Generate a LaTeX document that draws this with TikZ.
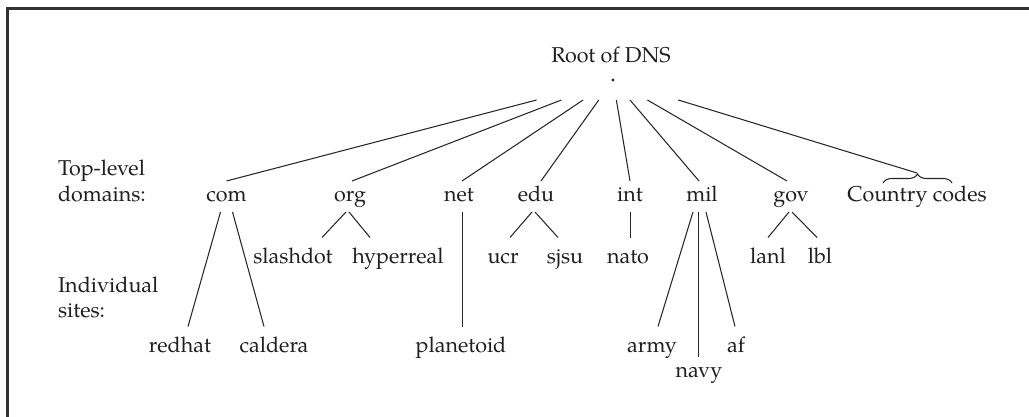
\documentclass[tikz,border=0pt]{standalone}
\usepackage{fontspec}
\setmainfont{TeX Gyre Pagella}
\usetikzlibrary{decorations.pathreplacing}
\begin{document}
\begin{tikzpicture}[x=1pt,y=-1pt,
  txt/.style={font=\fontsize{21.5}{25}\selectfont, inner sep=0pt, outer sep=0pt, anchor=base, text=black!88},
  tld/.style={txt, text height=20pt, text depth=11pt},
  site/.style={txt, text height=25.5pt, text depth=6pt},
  lowsite/.style={txt, text height=20pt, text depth=6pt},
  edge/.style={line width=1.05pt, draw=black!85},
  frame/.style={line width=3pt, draw=black!80, line join=miter},
]
\useasboundingbox (0,0) rectangle (1029,417);
\draw[frame] (7,417) -- (7,8.5) -- (1029,8.5);

% root
\node[txt] (rootlbl) at (611,63) {Root of DNS};
\node[minimum width=200pt, minimum height=40pt, inner sep=0pt, outer sep=0pt] (dot) at (613,80) {};
\fill[black!85] (dot.center) circle (1.7pt);

% side labels
\node[txt, anchor=base west] (tl1) at (58,176) {Top-level};
\node[txt, anchor=base west] (tl2) at (58,201) {domains:};
\node[txt, anchor=base west] (is1) at (58,292) {Individual};
\node[txt, anchor=base west] (is2) at (58,317) {sites:};

% top-level domains
\node[tld] (com) at (226.5,201) {com};
\node[tld] (org) at (350,201) {org};
\node[tld] (net) at (459,201) {net};
\node[tld] (edu) at (536,201) {edu};
\node[tld] (int) at (630,201) {int};
\node[tld] (mil) at (702,201) {mil};
\node[tld] (gov) at (791,201) {gov};
\node[tld] (cc) at (917,201) {Country codes};
\draw[edge, decorate, decoration={brace, amplitude=9pt}]
  ([xshift=-34pt,yshift=-2pt]cc.north) -- ([xshift=35pt,yshift=-2pt]cc.north);
\coordinate (cctip) at ([yshift=8pt]cc.north);

% second row sites
\node[site] (slashdot) at (293,263) {slashdot};
\node[site] (hyperreal) at (398,263) {hyperreal};
\node[site] (ucr) at (503,263) {ucr};
\node[site] (sjsu) at (565,263) {sjsu};
\node[site] (nato) at (628,263) {nato};
\node[site] (lanl) at (768,263) {lanl};
\node[site] (lbl) at (820,263) {lbl};

% third row sites
\node[site] (redhat) at (180,352) {redhat};
\node[site] (caldera) at (274,352) {caldera};
\node[site] (planetoid) at (461,352) {planetoid};
\node[site] (army) at (652,352) {army};
\node[site] (af) at (736,352) {af};
\node[lowsite] (navy) at (699,377) {navy};

% root connectors
\draw[edge] (dot) -- (com.north);
\draw[edge] (dot) -- ([xshift=2pt]org.north);
\draw[edge] (dot) -- ([xshift=3pt]net.north);
\draw[edge] (dot) -- ([xshift=5pt]edu.north);
\draw[edge] (dot) -- (int.north);
\draw[edge] (dot) -- ([xshift=-3pt]mil.north);
\draw[edge] (dot) -- ([xshift=-4pt]gov.north);
\draw[edge] (dot) -- (cctip);

% com
\draw[edge] ([xshift=-6pt]com.south) -- ([xshift=8pt]redhat.north);
\draw[edge] ([xshift=6pt]com.south) -- ([xshift=-10pt]caldera.north);
% org
\draw[edge] ([xshift=-4pt]org.south) -- ([xshift=29pt]slashdot.north);
\draw[edge] ([xshift=-1pt]org.south) -- ([xshift=-28pt]hyperreal.north);
% net
\draw[edge] ([xshift=3.5pt]net.south) -- ([xshift=1.5pt]planetoid.north);
% edu
\draw[edge] ([xshift=-4pt]edu.south) -- ([xshift=7pt]ucr.north);
\draw[edge] ([xshift=-1pt]edu.south) -- ([xshift=-7pt]sjsu.north);
% int
\draw[edge] ([xshift=0.5pt]int.south) -- ([xshift=2.5pt]nato.north);
% mil
\draw[edge] ([xshift=-9pt]mil.south) -- ([xshift=6pt]army.north);
\draw[edge] ([xshift=-3.5pt]mil.south) -- ([xshift=-0.5pt]navy.north);
\draw[edge] ([xshift=4pt]mil.south) -- ([xshift=-1pt]af.north);
% gov
\draw[edge] ([xshift=-2pt]gov.south) -- (lanl.north);
\draw[edge] ([xshift=1pt]gov.south) -- ([xshift=-3pt]lbl.north);
\end{tikzpicture}
\end{document}
